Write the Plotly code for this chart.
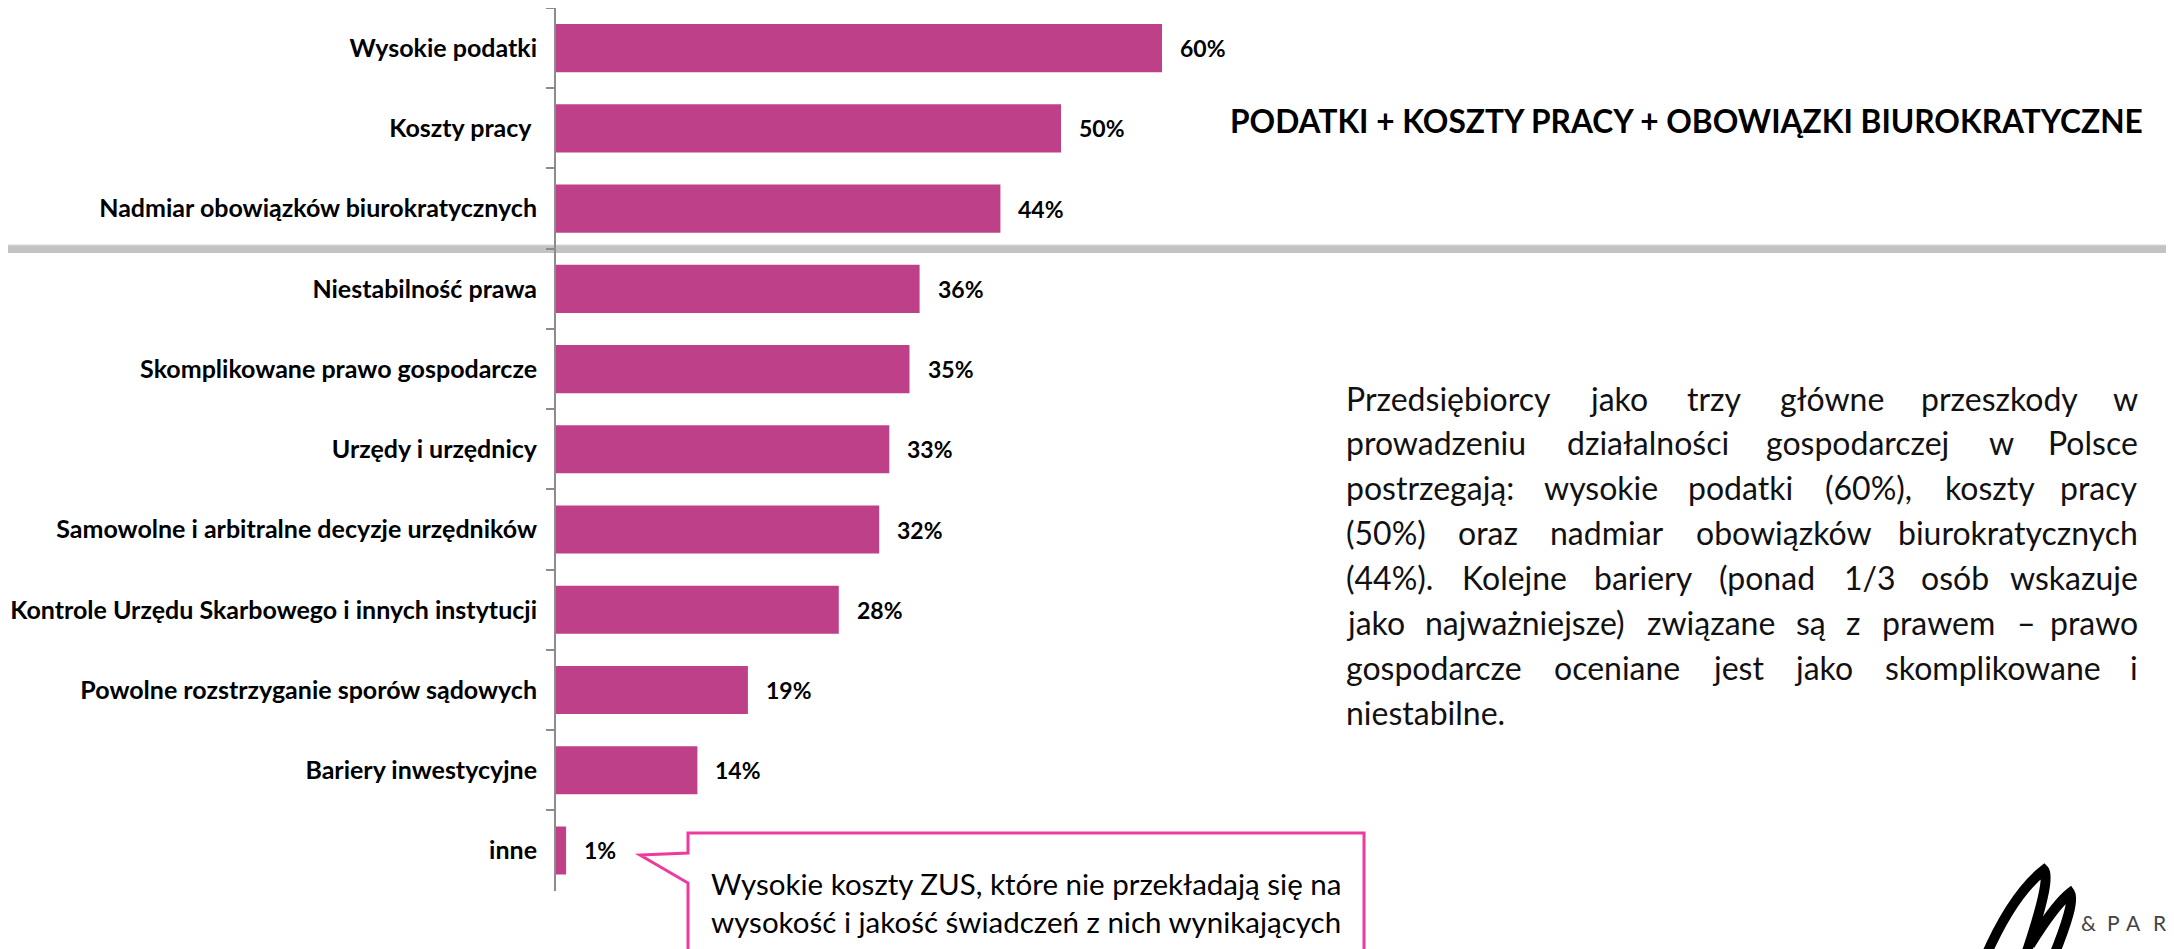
import plotly.graph_objects as go

W, H = 2174, 949
PAGE = 8  # default body margin of the html page

categories = [
    "Wysokie podatki",
    "Koszty pracy\u00a0",
    "Nadmiar obowiązków biurokratycznych",
    "Niestabilność prawa",
    "Skomplikowane prawo gospodarcze",
    "Urzędy i urzędnicy",
    "Samowolne i arbitralne decyzje urzędników",
    "Kontrole Urzędu Skarbowego i innych instytucji",
    "Powolne rozstrzyganie sporów sądowych",
    "Bariery inwestycyjne",
    "inne",
]
values = [60, 50, 44, 36, 35, 33, 32, 28, 19, 14, 1]

title_text = "PODATKI + KOSZTY PRACY + OBOWIĄZKI BIUROKRATYCZNE"
paragraph_lines = [
    "Przedsiębiorcy jako trzy główne przeszkody w",
    "prowadzeniu działalności gospodarczej w Polsce",
    "postrzegają: wysokie podatki (60%), koszty pracy",
    "(50%) oraz nadmiar obowiązków biurokratycznych",
    "(44%). Kolejne bariery (ponad 1/3 osób wskazuje",
    "jako najważniejsze) związane są z prawem – prawo",
    "gospodarcze oceniane jest jako skomplikowane i",
    "niestabilne.",
]
callout_lines = [
    "Wysokie koszty ZUS, które nie przekładają się na",
    "wysokość i jakość świadczeń z nich wynikających",
]
logo_letters = ["&amp;", "P", "A", "R"]

FONT = "Lato, Roboto, sans-serif"
BAR = "#BE4088"
PINK = "#EE3A9E"


def px(x):
    return (x - PAGE) / W


def py(y):
    return 1 - (y - PAGE) / H


def path(points):
    return "M " + " L ".join(f"{px(x):.5f},{py(y):.5f}" for x, y in points) + " Z"


# rough Lato glyph widths (per 1000 em) used for justifying the paragraph
GLYPH = {c: 240 for c in "ijlłí"}
GLYPH.update({c: 225 for c in ".,:;"})
GLYPH.update({"f": 320, "t": 350, "/": 360, "r": 370, "(": 300, ")": 300})
GLYPH.update({c: 420 for c in "sś"})
GLYPH.update({c: 455 for c in "zźżcćJ"})
GLYPH.update({c: 500 for c in "kvxyaą"})
GLYPH.update({c: 520 for c in "eę"})
GLYPH.update({c: 580 for c in "0123456789"})
GLYPH.update({"m": 840, "w": 760, "%": 760, "K": 620, "P": 580, "–": 500, "g": 500})


def word_width(word, size):
    return sum(GLYPH.get(ch, 560) for ch in word) / 1000 * size


fig = go.Figure()
fig.add_trace(go.Bar(
    x=values, y=categories, orientation="h", width=0.6,
    marker=dict(color=BAR, line=dict(width=0)),
    hoverinfo="skip",
))

ax_left, ax_right = 556, 1566
fig.update_layout(
    width=W, height=H,
    margin=dict(l=0, r=0, t=0, b=0, autoexpand=False),
    paper_bgcolor="white", plot_bgcolor="rgba(0,0,0,0)",
    showlegend=False,
    font=dict(family=FONT, color="black"),
    xaxis=dict(domain=[px(ax_left), px(ax_right)], range=[0, 100], visible=False,
               automargin=False),
    yaxis=dict(
        domain=[py(890.6), py(8)], autorange="reversed", automargin=False,
        showline=True, linecolor="#8C8C8C", linewidth=2,
        ticks="outside", ticklen=8, tickcolor="#8C8C8C", tickwidth=2,
        tickson="boundaries", ticklabelstandoff=12,
        tickfont=dict(size=25, weight="bold", color="black", family=FONT),
        showgrid=False, zeroline=False,
    ),
)

shapes = []
# grey panel with shadow behind the top three bars
shapes.append(dict(type="rect", xref="paper", yref="paper", layer="below",
                   x0=px(-10), x1=px(W + 20), y0=py(253), y1=py(-10),
                   fillcolor="#C3C3C3", line=dict(width=0)))
shapes.append(dict(type="rect", xref="paper", yref="paper", layer="below",
                   x0=px(1), x1=px(W + 20), y0=py(245), y1=py(3),
                   fillcolor="white", line=dict(color="#DADADA", width=1)))
# speech bubble
shapes.append(dict(type="path", xref="paper", yref="paper",
                   path=path([(688, 833), (1364, 833), (1364, 980), (688, 980),
                              (688, 883), (640, 855), (688, 853)]),
                   fillcolor="white", line=dict(color=PINK, width=3)))
# logo brush strokes
shapes.append(dict(type="path", xref="paper", yref="paper",
                   path=(f"M {px(1984):.5f},{py(960):.5f} Q {px(2012):.5f},{py(895):.5f} {px(2044):.5f},{py(870):.5f} "
                         f"Q {px(2052):.5f},{py(878):.5f} {px(2024):.5f},{py(960):.5f}"),
                   line=dict(color="black", width=10)))
shapes.append(dict(type="path", xref="paper", yref="paper",
                   path=(f"M {px(2030):.5f},{py(945):.5f} Q {px(2055):.5f},{py(905):.5f} {px(2070):.5f},{py(893):.5f} "
                         f"Q {px(2076):.5f},{py(902):.5f} {px(2052):.5f},{py(960):.5f}"),
                   line=dict(color="black", width=10)))

annotations = []
for cat, v in zip(categories, values):
    annotations.append(dict(x=v, y=cat, xref="x", yref="y", text=f"{v}%",
                            showarrow=False, xanchor="left", yanchor="middle", xshift=16,
                            font=dict(size=23, weight="bold", color="black", family=FONT)))

annotations.append(dict(x=px(1686), y=py(121), xref="paper", yref="paper",
                        text=title_text, showarrow=False, xanchor="center", yanchor="middle",
                        font=dict(size=31.7, weight="bold", color="black", family=FONT)))

# justified paragraph
p_size = 32
p_left, p_right = 1344, 2140
pfont = dict(size=p_size, color="#111111", family=FONT)
for i, line in enumerate(paragraph_lines):
    yy = py(398 + i * 44.9)
    words = line.split(" ")
    if i == len(paragraph_lines) - 1:
        annotations.append(dict(x=px(p_left), y=yy, xref="paper", yref="paper", text=line,
                                showarrow=False, xanchor="left", yanchor="middle", font=pfont))
        continue
    widths = [word_width(w, p_size) for w in words]
    gap = (p_right - p_left - sum(widths)) / (len(words) - 1)
    xpos = p_left
    for j, (w, ww) in enumerate(zip(words, widths)):
        last = j == len(words) - 1
        annotations.append(dict(x=px(p_right if last else xpos), y=yy, xref="paper", yref="paper",
                                text=w, showarrow=False, xanchor="right" if last else "left",
                                yanchor="middle", font=pfont))
        xpos += ww + gap

for k, line in enumerate(callout_lines):
    annotations.append(dict(x=px(1026), y=py(883 + k * 38), xref="paper", yref="paper",
                            text=line, showarrow=False, xanchor="center", yanchor="middle",
                            font=dict(size=29.5, color="black", family=FONT)))

for letter, lx in zip(logo_letters, [2080, 2106, 2125, 2152]):
    annotations.append(dict(x=px(lx), y=py(922), xref="paper", yref="paper",
                            text=letter, showarrow=False, xanchor="left", yanchor="middle",
                            borderpad=0, font=dict(size=21, color="#444444", family="Lato")))

fig.update_layout(shapes=shapes, annotations=annotations)
fig.write_html("out.html")
